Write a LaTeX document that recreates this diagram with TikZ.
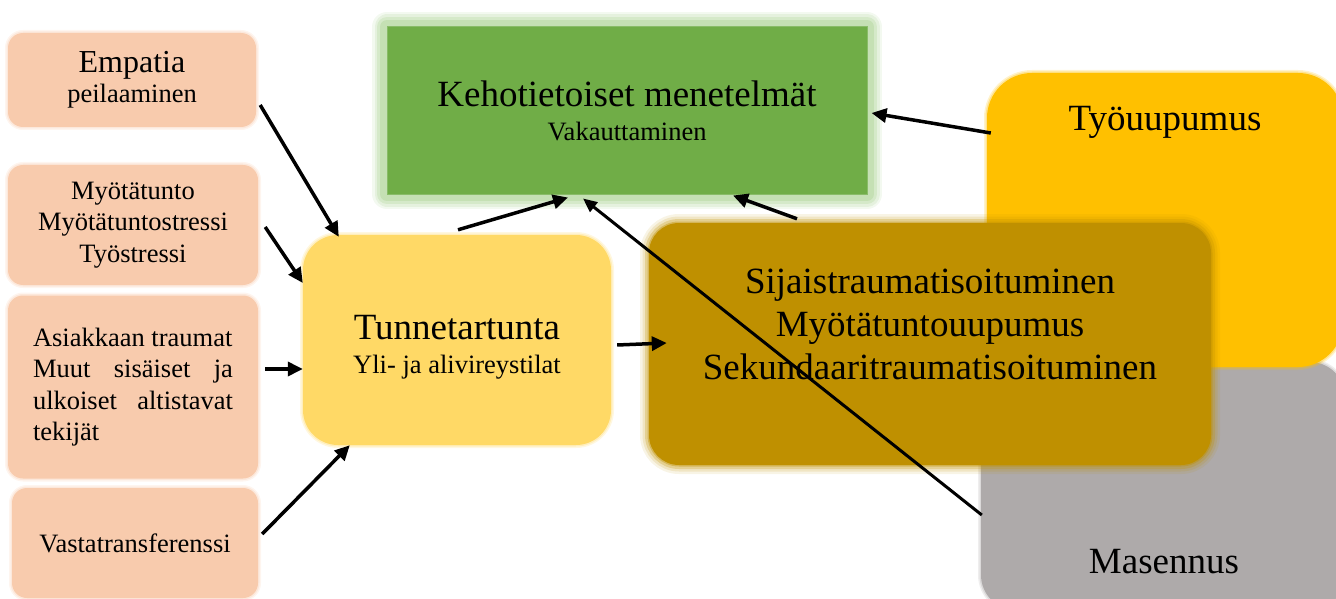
\documentclass[tikz,border=0pt]{standalone}
\usepackage{fontspec}
\setmainfont{Liberation Serif}
\usetikzlibrary{arrows.meta,positioning,calc}

\definecolor{salmon}{HTML}{F8CBAD}
\definecolor{sunny}{HTML}{FFD966}
\definecolor{leaf}{HTML}{70AD47}
\definecolor{leafglow}{HTML}{C5E0B4}
\definecolor{ochre}{HTML}{BF9000}
\definecolor{amber}{HTML}{FFC000}
\definecolor{stone}{HTML}{AEAAAA}

\newcommand{\bigtxt}{\fontsize{37}{43}\selectfont}
\newcommand{\smalltxt}{\fontsize{26.5}{31.5}\selectfont}

\tikzset{
  softbox/.style={fill=#1, inner sep=0pt,
    preaction={draw=#1, draw opacity=.2, line width=6pt},
    preaction={draw=#1, draw opacity=.3, line width=3pt}},
  blurbox/.style={fill=#1, inner sep=0pt,
    preaction={draw=#1, draw opacity=.1, line width=18pt},
    preaction={draw=#1, draw opacity=.15, line width=13pt},
    preaction={draw=#1, draw opacity=.25, line width=8pt},
    preaction={draw=#1, draw opacity=.4, line width=3pt}},
  glowbox/.style={fill=leaf, draw=leaf!70!leafglow, line width=1pt, inner sep=0pt,
    preaction={draw=leafglow, draw opacity=.2, line width=30pt, line join=round},
    preaction={draw=leafglow, draw opacity=.3, line width=25pt, line join=round},
    preaction={draw=leafglow, draw opacity=.5, line width=20pt, line join=round},
    preaction={draw=leafglow, line width=14pt, line join=round}},
  cause/.style={softbox=salmon, rounded corners=15pt, align=center, font=\smalltxt}
}

\begin{document}
\begin{tikzpicture}[x=1pt,y=-1pt,
    arr/.style={-{Triangle[length=15pt,width=14pt]},line width=3.5pt},
    longarr/.style={-{Triangle[length=14pt,width=12pt]},line width=3pt}]
    \useasboundingbox (0,0) rectangle (1336,599);

    % Outcomes on the right
    \node[softbox=stone, rounded corners=35pt, minimum width=364pt, minimum height=248pt] (mas) at (1163,486) {};
    \node[softbox=amber, rounded corners=45pt, minimum width=356pt, minimum height=294pt] (tyo) at (1165,220) {};
    \node[font=\bigtxt, anchor=base] (tyoT) at (1165,131) {Työuupumus};
    \node[font=\bigtxt, anchor=base] (masT) at (1164,573) {Masennus};
    \node[blurbox=ochre, rounded corners=30pt, minimum width=562pt, minimum height=242pt] (sij) at (930,344) {};
    \node[font=\bigtxt, align=center] (sijT) at (930,324)
        {Sijaistraumatisoituminen\\Myötätuntouupumus\\Sekundaaritraumatisoituminen};

    % Methods
    \node[glowbox, minimum width=480pt, minimum height=167pt, align=center, font=\smalltxt] (keho) at (627,110.5)
        {{\bigtxt Kehotietoiset menetelmät}\\[2.5pt]Vakauttaminen};

    % Emotional contagion
    \node[softbox=sunny, rounded corners=35pt, minimum width=308pt, minimum height=210pt] (tun) at (457,340) {};
    \node[font=\smalltxt, align=center] (tunT) at (457,347)
        {{\bigtxt Tunnetartunta}\\[2.5pt]Yli- ja alivireystilat};

    % Causes on the left
    \node[cause, minimum width=248pt, minimum height=94pt] (emp) at (132,80)
        {{\fontsize{32}{38}\selectfont Empatia}\\[-1.5pt]peilaaminen};
    \node[cause, minimum width=250pt, minimum height=120pt] (myo) at (133,225)
        {Myötätunto\\Myötätuntostressi\\Työstressi};
    \node[cause, minimum width=250pt, minimum height=183pt, align=left] (asi) at (133,387)
        {Asiakkaan traumat\\\makebox[200pt][s]{Muut sisäiset ja}\\\makebox[200pt][s]{ulkoiset altistavat}\\tekijät};
    \node[cause, minimum width=246pt, minimum height=110pt] (vas) at (135,543) {Vastatransferenssi};

    % Arrows
    \draw[arr] ([shift={(4,25)}]emp.east) -- ([shift={(36,2)}]tun.north west);
    \draw[arr] ([shift={(7,2)}]myo.east) -- ([shift={(0,-57)}]tun.west);
    \draw[arr] ([shift={(7,-18)}]asi.east) -- ([shift={(0,29)}]tun.west);
    \draw[arr] ([shift={(4,-9)}]vas.east) -- ([shift={(47,0)}]tun.south west);
    \draw[arr] ([shift={(1,-5)}]tun.north) -- ([shift={(-59,3)}]keho.south);
    \draw[arr] ([shift={(6,5)}]tun.east) -- ([shift={(18,-1)}]sij.west);
    \draw[arr] ([shift={(-133,-4)}]sij.north) -- ([shift={(106,1)}]keho.south);
    \draw[arr] ([shift={(4,-87)}]tyo.west) -- ([shift={(4,2.5)}]keho.east);
    \draw[longarr] ([shift={(1,29)}]mas.west) -- ([shift={(-44,4)}]keho.south);
\end{tikzpicture}
\end{document}
